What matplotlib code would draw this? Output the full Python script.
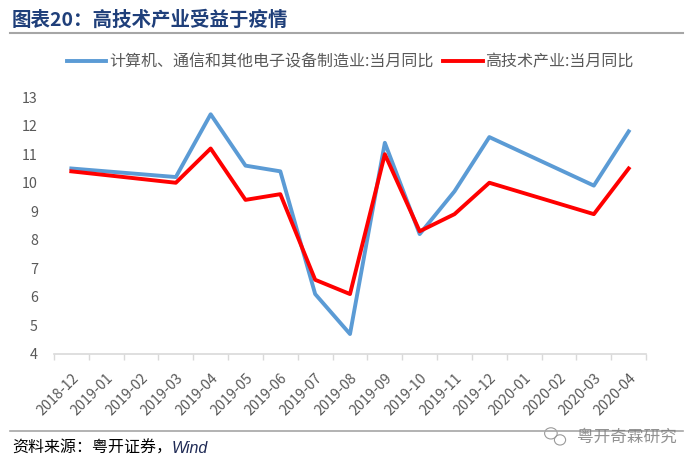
import matplotlib.pyplot as plt
import numpy as np
from matplotlib.patches import Ellipse

plt.rcParams["font.family"] = ["Noto Sans CJK SC", "DejaVu Sans"]

# %% data
months = ["2018-12", "2019-01", "2019-02", "2019-03", "2019-04", "2019-05", "2019-06",
          "2019-07", "2019-08", "2019-09", "2019-10", "2019-11", "2019-12",
          "2020-01", "2020-02", "2020-03", "2020-04"]
obs_months = ["2018-12", "2019-03", "2019-04", "2019-05", "2019-06", "2019-07", "2019-08",
              "2019-09", "2019-10", "2019-11", "2019-12", "2020-03", "2020-04"]
electronics = [10.5, 10.2, 12.4, 10.6, 10.4, 6.1, 4.7, 11.4, 8.2, 9.7, 11.6, 9.9, 11.8]
hightech = [10.4, 10.0, 11.2, 9.4, 9.6, 6.6, 6.1, 11.0, 8.3, 8.9, 10.0, 8.9, 10.5]

label_elec = "计算机、通信和其他电子设备制造业:当月同比"
label_ht = "高技术产业:当月同比"

# %% plot
fig = plt.figure(figsize=(7, 4.67), dpi=100)
ax = fig.add_axes([0.077, 0.242, 0.846, 0.550])

xpos = np.array([months.index(m) for m in obs_months])
ax.plot(xpos, electronics, color="#5B9BD5", lw=2.8, label=label_elec)
ax.plot(xpos, hightech, color="#FF0000", lw=2.8, label=label_ht)

ax.set_xlim(-0.5, len(months) - 0.5)
ax.set_ylim(4, 13)
ax.set_yticks(np.arange(4, 14, 1))
ax.set_xticks(np.arange(len(months)))
ax.set_xticklabels(months, rotation=45, ha="right", rotation_mode="anchor")
ax.set_xticks(np.arange(-0.5, len(months), 1), minor=True)
ax.tick_params(axis="x", which="major", length=0, pad=12, labelsize=10.3, labelcolor="#595959")
ax.tick_params(axis="x", which="minor", length=4, color="#D9D9D9", width=1)
ax.tick_params(axis="y", length=0, labelsize=10.3, labelcolor="#595959", pad=11.5)

for side in ["left", "right", "top"]:
    ax.spines[side].set_visible(False)
ax.spines["bottom"].set_color("#D9D9D9")
ax.spines["bottom"].set_linewidth(1.2)

fig.legend(loc="center", bbox_to_anchor=(0.5, 0.867), ncol=2, frameon=False,
           fontsize=11.5, handlelength=2.5, columnspacing=0.6, handletextpad=0.15,
           labelcolor="#595959")

# title and footer
fig.text(0.017, 0.957, "图表20：高技术产业受益于疫情", fontsize=14, fontweight="bold",
         color="#1F3F7A", va="center")
fig.add_artist(plt.Line2D([0.014, 0.975], [0.929, 0.929], color="#A6A6A6", lw=1.5))
fig.add_artist(plt.Line2D([0.014, 0.975], [0.077, 0.077], color="#A6A6A6", lw=1.2))
src = fig.text(0.017, 0.040, "资料来源：粤开证券，", fontsize=11.5, color="black", va="center")
ax.annotate("Wind", xy=(1, 0.5), xycoords=src, xytext=(0, 0), textcoords="offset points",
            va="center", ha="left", fontsize=11.5, style="italic", color="#1F2A55",
            family="Liberation Sans", annotation_clip=False)

# watermark
fig.text(0.967, 0.064, "粤开奇霖研究", fontsize=12, color="#7F7F7F", va="center",
         ha="right", alpha=0.85)
fig.add_artist(Ellipse((0.787, 0.072), 0.018, 0.024, transform=fig.transFigure,
                       fill=False, ec="#9A9A9A", lw=0.8))
fig.add_artist(Ellipse((0.800, 0.058), 0.016, 0.022, transform=fig.transFigure,
                       fill=False, ec="#9A9A9A", lw=0.8))

fig.savefig("out.png", dpi=100)
